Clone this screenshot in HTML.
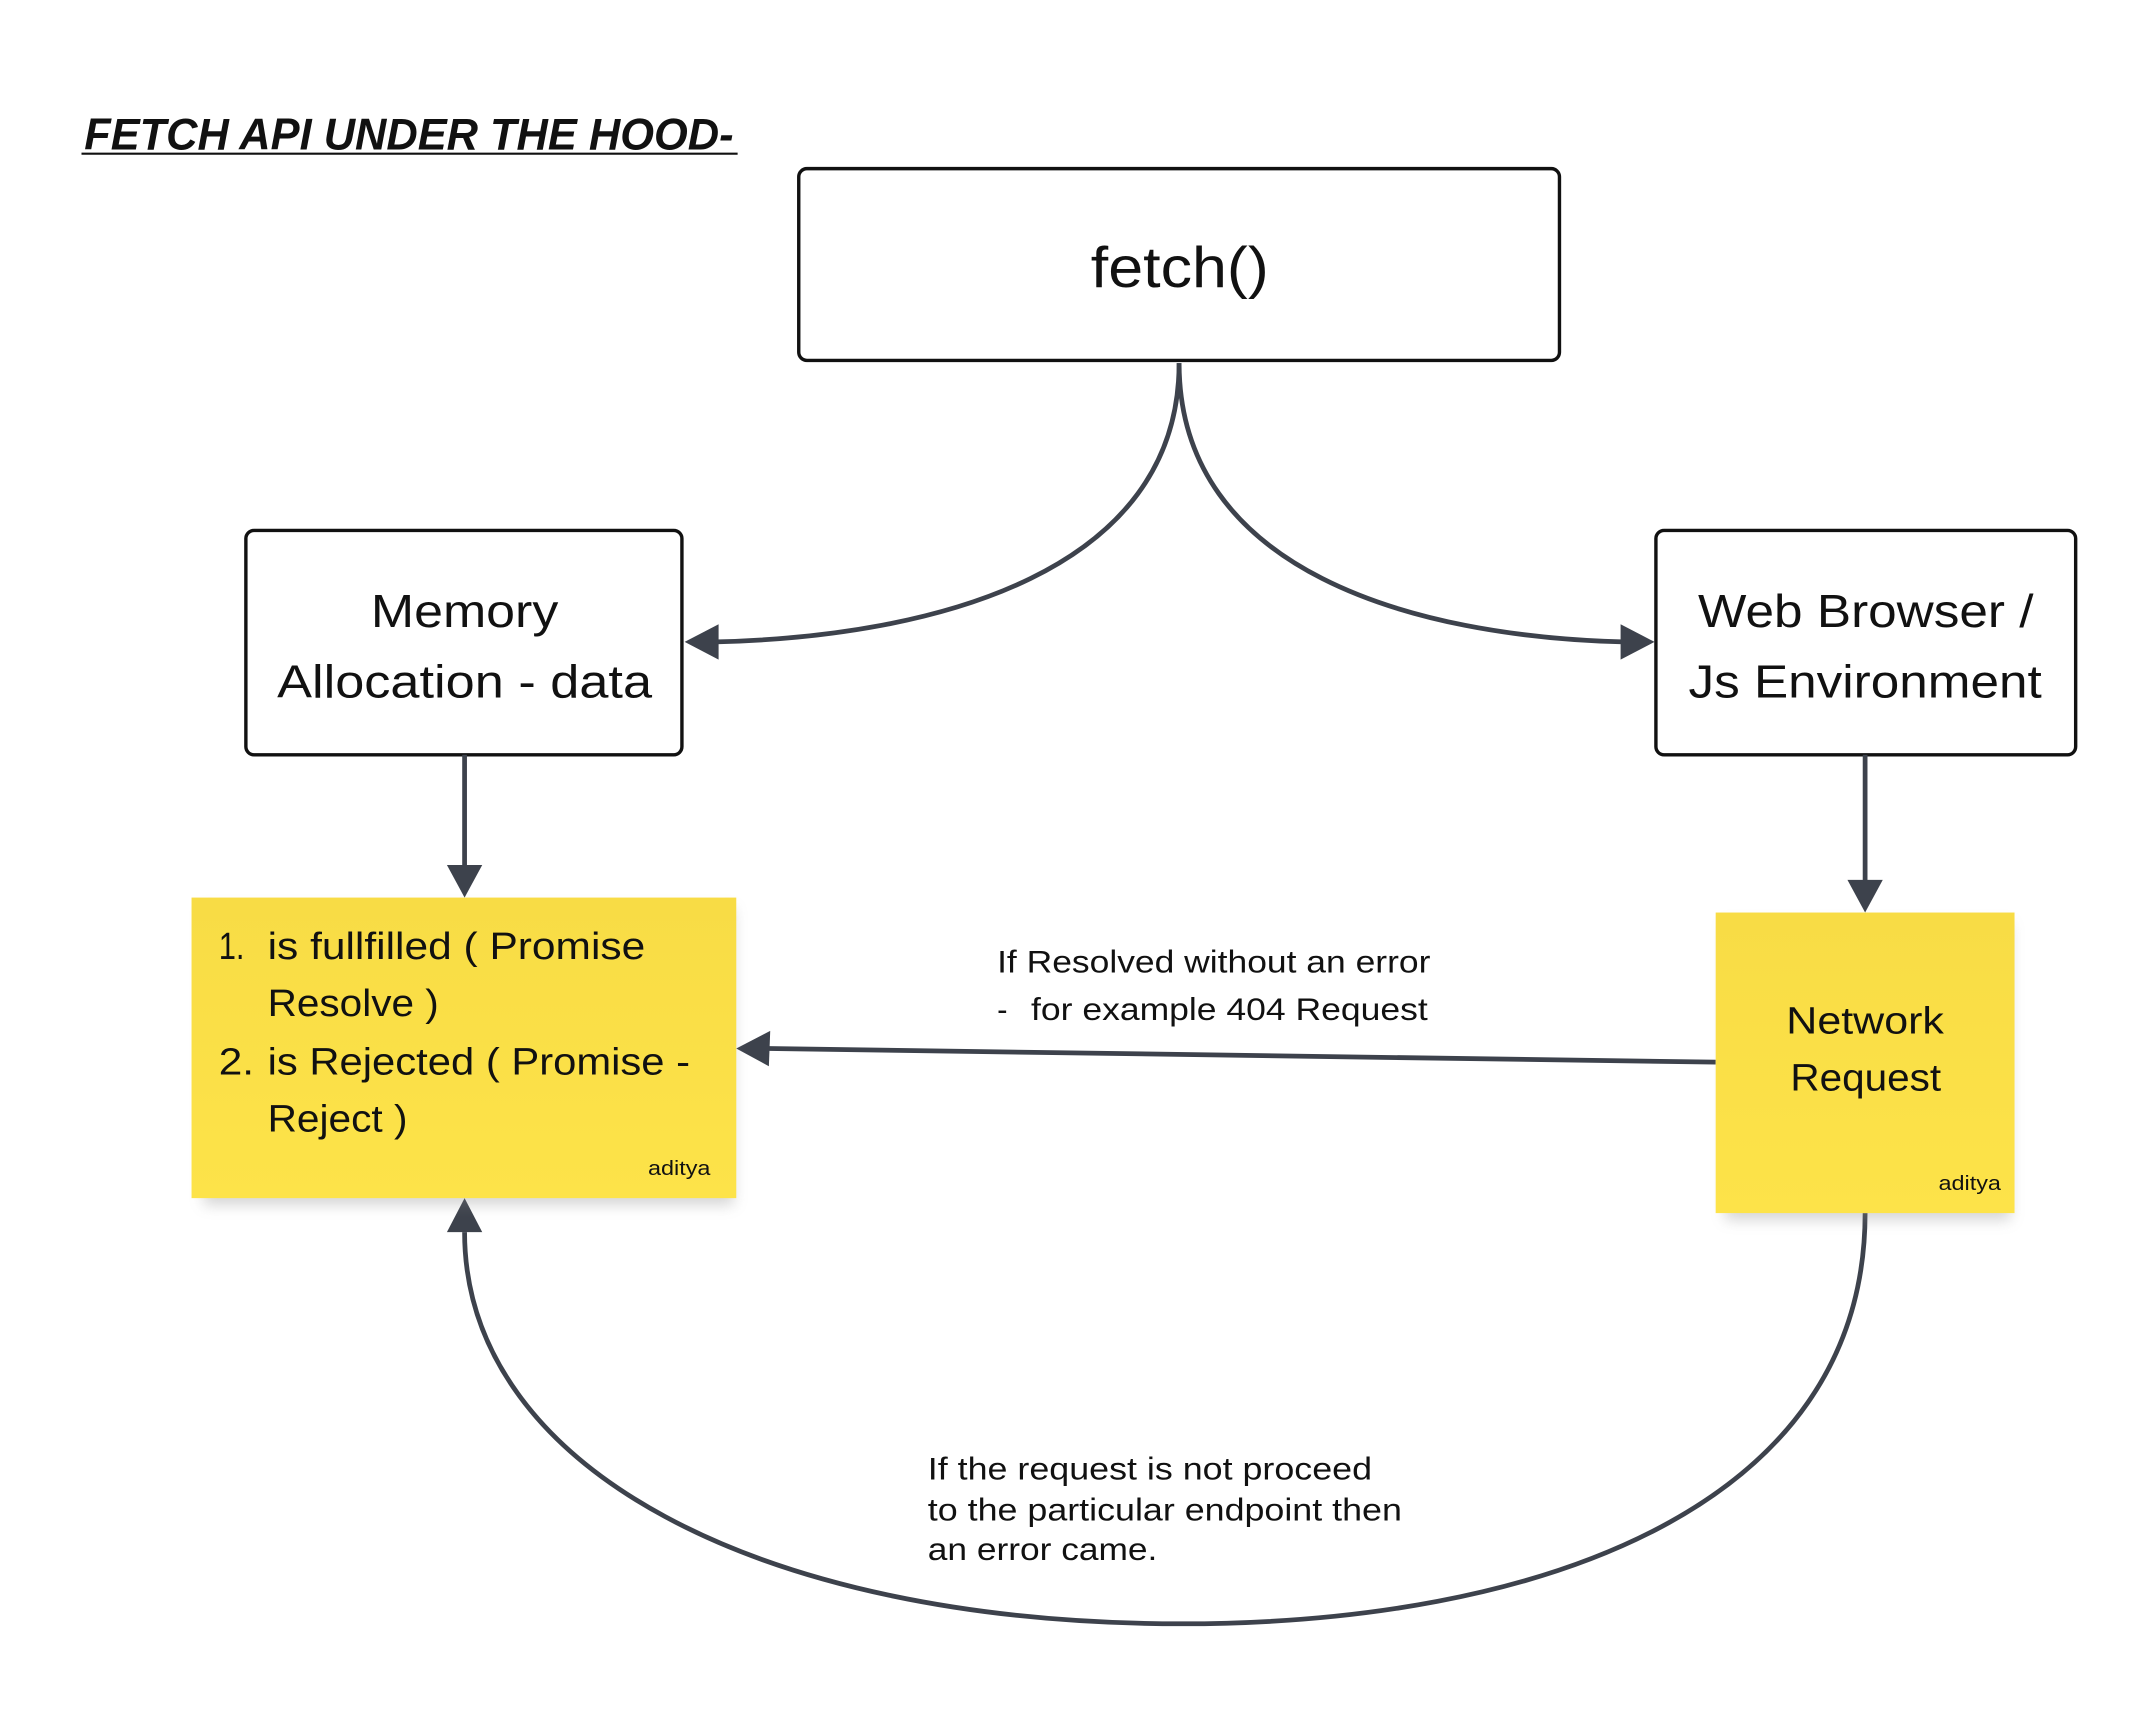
<!DOCTYPE html>
<html><head><meta charset="utf-8"><style>
html,body{margin:0;padding:0;background:#fff;}
svg{display:block}
text{font-family:"Liberation Sans","DejaVu Sans",sans-serif;fill:#111;}
</style></head><body>
<svg width="2130" height="1719" viewBox="0 0 1568 1264" preserveAspectRatio="none" xmlns="http://www.w3.org/2000/svg">
<defs>
<linearGradient id="y" x1="0" y1="0" x2="0" y2="1"><stop offset="0" stop-color="#f8dc45"/><stop offset="1" stop-color="#fde349"/></linearGradient>
<filter id="sh" x="-10%" y="-10%" width="120%" height="130%"><feGaussianBlur stdDeviation="5"/></filter>
</defs>
<text x="62" y="110" font-size="33" font-weight="bold" font-style="italic" textLength="478" lengthAdjust="spacingAndGlyphs">FETCH API UNDER THE HOOD-</text>
<line x1="60" y1="113" x2="543" y2="113" stroke="#111" stroke-width="1.5"/>

<rect x="588" y="124" width="560" height="141" rx="6" fill="#fff" stroke="#111" stroke-width="2.5"/>
<text x="803" y="211" font-size="42" textLength="131" lengthAdjust="spacingAndGlyphs">fetch()</text>

<rect x="181" y="390" width="321" height="165" rx="6" fill="#fff" stroke="#111" stroke-width="2.5"/>
<text x="273" y="461" font-size="34" textLength="138" lengthAdjust="spacingAndGlyphs">Memory</text>
<text x="204" y="513" font-size="34" textLength="276" lengthAdjust="spacingAndGlyphs">Allocation - data</text>

<rect x="1219" y="390" width="309" height="165" rx="6" fill="#fff" stroke="#111" stroke-width="2.5"/>
<text x="1250" y="461" font-size="34" textLength="247" lengthAdjust="spacingAndGlyphs">Web Browser /</text>
<text x="1243" y="513" font-size="34" textLength="260" lengthAdjust="spacingAndGlyphs">Js Environment</text>

<g stroke="#3d424c" stroke-width="3.5" fill="none">
<path d="M868 267 C868 420 690 468 527 472"/>
<path d="M868 267 C868 420 1040 468 1195 472"/>
<path d="M342 555 L342 638"/>
<path d="M1373 555 L1373 650"/>
<path d="M1263 781 L566 771"/>
<path d="M1373 892 C1373 1110 1130 1194 870 1194 C560 1194 342 1080 342 906"/>
</g>
<g fill="#3d424c">
<polygon points="504,472 529,459 529,485"/>
<polygon points="1218,472 1193,459 1193,485"/>
<polygon points="342,660 329,636 355,636"/>
<polygon points="1373,671 1360,647 1386,647"/>
<polygon points="542,771 567,758 566,784"/>
<polygon points="342,881 329,906 355,906"/>
</g>

<rect x="150" y="668" width="390" height="218" fill="#888" opacity="0.35" filter="url(#sh)"/>
<rect x="141" y="660" width="401" height="221" fill="url(#y)"/>
<text x="161" y="705" font-size="28" textLength="19" lengthAdjust="spacingAndGlyphs">1.</text>
<text x="197" y="705" font-size="28" textLength="278" lengthAdjust="spacingAndGlyphs">is fullfilled ( Promise</text>
<text x="197" y="747" font-size="28" textLength="126" lengthAdjust="spacingAndGlyphs">Resolve )</text>
<text x="161" y="790" font-size="28" textLength="26" lengthAdjust="spacingAndGlyphs">2.</text>
<text x="197" y="790" font-size="28" textLength="311" lengthAdjust="spacingAndGlyphs">is Rejected ( Promise -</text>
<text x="197" y="832" font-size="28" textLength="103" lengthAdjust="spacingAndGlyphs">Reject )</text>
<text x="477" y="864" font-size="15" textLength="46" lengthAdjust="spacingAndGlyphs">aditya</text>

<rect x="1270" y="679" width="210" height="218" fill="#888" opacity="0.35" filter="url(#sh)"/>
<rect x="1263" y="671" width="220" height="221" fill="url(#y)"/>
<text x="1315" y="760" font-size="28" textLength="116" lengthAdjust="spacingAndGlyphs">Network</text>
<text x="1318" y="802" font-size="28" textLength="111" lengthAdjust="spacingAndGlyphs">Request</text>
<text x="1427" y="875" font-size="15" textLength="46" lengthAdjust="spacingAndGlyphs">aditya</text>

<text x="734" y="715" font-size="23" textLength="319" lengthAdjust="spacingAndGlyphs">If Resolved without an error</text>
<text x="734" y="750" font-size="23">-</text>
<text x="759" y="750" font-size="23" textLength="292" lengthAdjust="spacingAndGlyphs">for example 404 Request</text>

<text x="683" y="1088" font-size="23" textLength="327" lengthAdjust="spacingAndGlyphs">If the request is not proceed</text>
<text x="683" y="1118" font-size="23" textLength="349" lengthAdjust="spacingAndGlyphs">to the particular endpoint then</text>
<text x="683" y="1147" font-size="23" textLength="169" lengthAdjust="spacingAndGlyphs">an error came.</text>
</svg>
</body></html>
